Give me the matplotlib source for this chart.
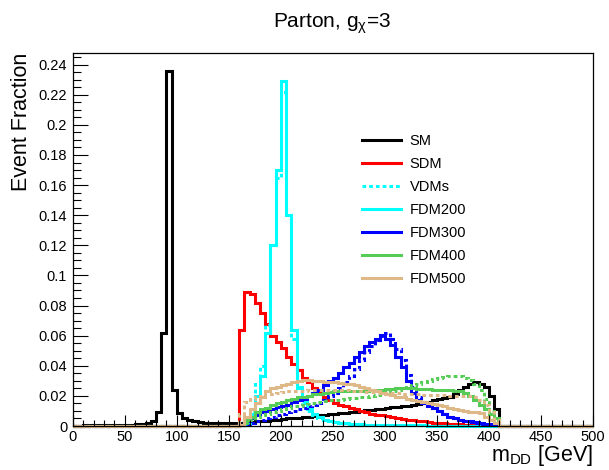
import numpy as np
import matplotlib
matplotlib.use("Agg")
import matplotlib.pyplot as plt
from matplotlib.ticker import MultipleLocator, FuncFormatter
from matplotlib.lines import Line2D

plt.rcParams['font.family'] = ['Liberation Sans', 'DejaVu Sans']
plt.rcParams['mathtext.fontset'] = 'custom'
plt.rcParams['mathtext.rm'] = 'Liberation Sans'
plt.rcParams['mathtext.it'] = 'Liberation Sans:italic'

# 5 GeV bins from 0 to 500
edges = np.arange(0, 505, 5)

# each series: first bin edge (GeV) and bin contents from there on
sm_start = 0
sm = [0.0003, 0.0003, 0.0004, 0.0004, 0.0005, 0.0005, 0.0006, 0.0006, 0.0007, 0.0008,
      0.0009, 0.001, 0.0012, 0.0015, 0.002, 0.0035, 0.009, 0.062, 0.236, 0.024,
      0.0086, 0.005, 0.004, 0.003, 0.0026, 0.0023, 0.0021, 0.002, 0.002, 0.002,
      0.002, 0.002, 0.0022, 0.0025, 0.0028, 0.003, 0.0033, 0.0036, 0.004, 0.0043,
      0.0046, 0.005, 0.0053, 0.0056, 0.006, 0.0063, 0.0067, 0.007, 0.0073, 0.0077,
      0.008, 0.0084, 0.0088, 0.0092, 0.0096, 0.010, 0.0104, 0.0108, 0.0112, 0.0116,
      0.012, 0.0124, 0.0128, 0.0132, 0.0136, 0.014, 0.0146, 0.0152, 0.016, 0.017,
      0.018, 0.0185, 0.019, 0.021, 0.024, 0.026, 0.028, 0.029, 0.028, 0.026,
      0.020, 0.011]

sdm_start = 160
sdm = [0.064, 0.089, 0.088, 0.082, 0.075, 0.068, 0.060, 0.056, 0.052, 0.046,
       0.041, 0.037, 0.032, 0.029, 0.025, 0.022, 0.019, 0.017, 0.015, 0.014,
       0.013, 0.012, 0.011, 0.0098, 0.009, 0.0083, 0.0075, 0.007, 0.0065, 0.006,
       0.0052, 0.0047, 0.0042, 0.0037, 0.0033, 0.003, 0.0025, 0.0022, 0.002, 0.0017,
       0.0015, 0.0013, 0.0011, 0.001, 0.0008, 0.0007, 0.0005, 0.0004, 0.0003, 0.0002]

vdm200_start = 160
vdm200 = [0.001, 0.003, 0.010, 0.028, 0.040, 0.067, 0.12, 0.165, 0.222, 0.14,
          0.058, 0.025, 0.015, 0.010, 0.007, 0.005, 0.004, 0.003, 0.0025, 0.002,
          0.0018, 0.0016, 0.0014, 0.0012, 0.001, 0.001, 0.0009, 0.0008, 0.0008, 0.0007,
          0.0006, 0.0006, 0.0005, 0.0005, 0.0004, 0.0004, 0.0003, 0.0003, 0.0003, 0.0002,
          0.0002, 0.0002, 0.0001, 0.0001, 0.0001, 0.0001, 0.0001, 0.0001, 0.0001, 0.0001]

fdm200_start = 160
fdm200 = [0.0005, 0.001, 0.008, 0.020, 0.033, 0.062, 0.12, 0.17, 0.229, 0.14,
          0.064, 0.026, 0.017, 0.011, 0.008, 0.006, 0.004, 0.003, 0.0025, 0.002,
          0.0018, 0.0016, 0.0014, 0.0012, 0.001, 0.001, 0.0009, 0.0008, 0.0008, 0.0007,
          0.0006, 0.0006, 0.0005, 0.0005, 0.0004, 0.0004, 0.0003, 0.0003, 0.0003, 0.0002,
          0.0002, 0.0002, 0.0001, 0.0001, 0.0001, 0.0001, 0.0001, 0.0001, 0.0001, 0.0001]

vdm300_start = 160
vdm300 = [0.0005, 0.001, 0.002, 0.003, 0.004, 0.005, 0.006, 0.007, 0.008, 0.009,
          0.010, 0.011, 0.012, 0.013, 0.014, 0.015, 0.017, 0.020, 0.022, 0.025,
          0.029, 0.033, 0.038, 0.044, 0.049, 0.053, 0.057, 0.060, 0.062, 0.058,
          0.051, 0.044, 0.034, 0.026, 0.019, 0.016, 0.014, 0.012, 0.010, 0.008,
          0.006, 0.005, 0.004, 0.003, 0.0025, 0.002, 0.0015, 0.001, 0.0008, 0.0004]

fdm300_start = 160
fdm300 = [0.001, 0.003, 0.005, 0.007, 0.009, 0.010, 0.011, 0.0125, 0.013, 0.014,
          0.016, 0.017, 0.018, 0.020, 0.022, 0.024, 0.027, 0.030, 0.032, 0.035,
          0.039, 0.042, 0.046, 0.049, 0.053, 0.056, 0.058, 0.0605, 0.058, 0.054,
          0.046, 0.039, 0.030, 0.022, 0.017, 0.015, 0.013, 0.012, 0.010, 0.008,
          0.006, 0.005, 0.004, 0.0035, 0.003, 0.0025, 0.002, 0.0015, 0.0012, 0.0008]

vdm400_start = 160
vdm400 = [0.0005, 0.002, 0.004, 0.006, 0.007, 0.008, 0.009, 0.010, 0.011, 0.012,
          0.013, 0.0135, 0.014, 0.0145, 0.015, 0.016, 0.0165, 0.017, 0.0172, 0.0175,
          0.018, 0.0183, 0.0186, 0.019, 0.0195, 0.020, 0.0205, 0.021, 0.022, 0.023,
          0.024, 0.025, 0.026, 0.027, 0.028, 0.029, 0.030, 0.031, 0.032, 0.0325,
          0.033, 0.033, 0.033, 0.032, 0.0305, 0.028, 0.024, 0.018, 0.010, 0.004]

fdm400_start = 160
fdm400 = [0.001, 0.004, 0.006, 0.009, 0.011, 0.012, 0.014, 0.015, 0.016, 0.017,
          0.018, 0.019, 0.0195, 0.020, 0.021, 0.0215, 0.022, 0.0225, 0.023, 0.023,
          0.023, 0.023, 0.023, 0.0235, 0.0235, 0.024, 0.024, 0.024, 0.0245, 0.0245,
          0.025, 0.025, 0.025, 0.025, 0.0245, 0.0245, 0.0245, 0.024, 0.024, 0.024,
          0.024, 0.0235, 0.023, 0.022, 0.020, 0.017, 0.014, 0.011, 0.008, 0.005]

vdm500_start = 160
vdm500 = [0.008, 0.016, 0.018, 0.019, 0.020, 0.021, 0.0215, 0.022, 0.0225, 0.023,
          0.023, 0.0235, 0.0235, 0.024, 0.024, 0.024, 0.024, 0.024, 0.024, 0.0238,
          0.0236, 0.0234, 0.0232, 0.023, 0.0228, 0.0226, 0.0224, 0.0222, 0.022, 0.0218,
          0.0216, 0.0214, 0.0212, 0.021, 0.021, 0.0208, 0.0206, 0.0205, 0.0205, 0.0203,
          0.0202, 0.0201, 0.020, 0.020, 0.020, 0.0195, 0.017, 0.014, 0.009, 0.004]

fdm500_start = 160
fdm500 = [0.001, 0.006, 0.011, 0.015, 0.0195, 0.023, 0.025, 0.026, 0.027, 0.028,
          0.0295, 0.030, 0.0305, 0.0305, 0.030, 0.030, 0.029, 0.029, 0.029, 0.0285,
          0.028, 0.028, 0.027, 0.026, 0.025, 0.024, 0.023, 0.022, 0.021, 0.0205,
          0.0195, 0.019, 0.018, 0.017, 0.0165, 0.016, 0.015, 0.0145, 0.014, 0.013,
          0.012, 0.0115, 0.0108, 0.010, 0.0095, 0.009, 0.0085, 0.006, 0.004, 0.002]

black = "#000000"
red = "#ff0000"
cyan = "#00ffff"
blue = "#0000ff"
green = "#55cc55"
tan = "#deb887"


def full(start, vals):
    h = np.zeros(len(edges) - 1)
    i = start // 5
    h[i:i + len(vals)] = vals
    return h


fig = plt.figure(figsize=(6.09, 4.70), dpi=100)
ax = fig.add_axes([0.1194, 0.0936, 0.8546, 0.7945])

lw = 2.2
dot = (0, (1.2, 1.0))
series = [
    (sm_start, sm, black, "-"),
    (sdm_start, sdm, red, "-"),
    (vdm200_start, vdm200, cyan, dot),
    (fdm200_start, fdm200, cyan, "-"),
    (vdm300_start, vdm300, blue, dot),
    (fdm300_start, fdm300, blue, "-"),
    (vdm400_start, vdm400, green, dot),
    (fdm400_start, fdm400, green, "-"),
    (vdm500_start, vdm500, tan, dot),
    (fdm500_start, fdm500, tan, "-"),
]
for start, vals, c, ls in series:
    ax.stairs(full(start, vals), edges, color=c, lw=lw, linestyle=ls, clip_on=False)

ax.set_xlim(0, 500)
ax.set_ylim(0, 0.248)

ax.xaxis.set_major_locator(MultipleLocator(50))
ax.xaxis.set_minor_locator(MultipleLocator(10))
ax.yaxis.set_major_locator(MultipleLocator(0.02))
ax.yaxis.set_minor_locator(MultipleLocator(0.005))
ax.yaxis.set_major_formatter(FuncFormatter(lambda v, p: "%g" % round(v, 3)))
ax.tick_params(axis="both", which="both", direction="in", top=False, right=False,
               labelsize=10.5, width=0.8)
ax.tick_params(axis="x", which="major", length=8, pad=3)
ax.tick_params(axis="x", which="minor", length=4)
ax.tick_params(axis="y", which="major", length=11, pad=4)
ax.tick_params(axis="y", which="minor", length=5.5)
for s in ax.spines.values():
    s.set_linewidth(0.9)

ax.set_xlabel(r"m$_{\rm DD}$ [GeV]", fontsize=15.5, loc="right", labelpad=-1)
ax.set_ylabel("Event Fraction", fontsize=15.5, loc="top", labelpad=5)
fig.text(0.545, 0.95, r"Parton, g$_{\rm\chi}$=3", fontsize=15, ha="center", va="center")

handles = [
    Line2D([], [], color=black, lw=lw),
    Line2D([], [], color=red, lw=lw),
    Line2D([], [], color=cyan, lw=lw, linestyle=dot),
    Line2D([], [], color=cyan, lw=lw),
    Line2D([], [], color=blue, lw=lw),
    Line2D([], [], color=green, lw=lw),
    Line2D([], [], color=tan, lw=lw),
]
labels = ["SM", "SDM", "VDMs", "FDM200", "FDM300", "FDM400", "FDM500"]
ax.legend(handles, labels, loc="upper left", bbox_to_anchor=(0.53, 0.818), frameon=False,
          fontsize=10.5, handlelength=2.7, handletextpad=0.6, labelspacing=0.62)

fig.savefig("out.png", dpi=100)
